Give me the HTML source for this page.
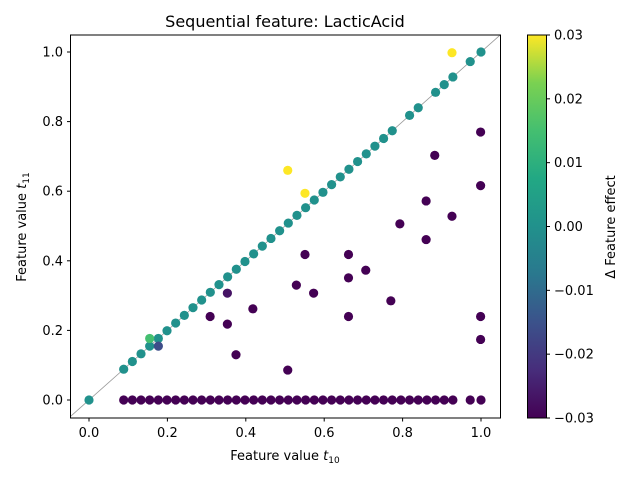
<!DOCTYPE html>
<html><head><meta charset="utf-8"><style>
body{margin:0;background:#fff}
svg{display:block;font-family:"DejaVu Sans","Liberation Sans",sans-serif}
</style></head><body>
<svg id="chart" width="640" height="480" viewBox="0 0 640 480" xmlns="http://www.w3.org/2000/svg">
<defs><linearGradient id="viridis" x1="0" y1="1" x2="0" y2="0">
<stop offset="0" stop-color="#440154"/><stop offset="0.125" stop-color="#472d7b"/><stop offset="0.25" stop-color="#3b528b"/><stop offset="0.375" stop-color="#2a788e"/><stop offset="0.5" stop-color="#21918c"/><stop offset="0.625" stop-color="#22a884"/><stop offset="0.75" stop-color="#44bf70"/><stop offset="0.875" stop-color="#7ad151"/><stop offset="1" stop-color="#fde725"/></linearGradient>
<clipPath id="plotclip"><rect x="70.5" y="35" width="430" height="383"/></clipPath></defs>
<text x="285" y="27" font-size="16" text-anchor="middle">Sequential feature: LacticAcid</text>
<g id="plot" clip-path="url(#plotclip)"></g>
<g id="axes"></g>
<rect x="70.5" y="35" width="430" height="383" fill="none" stroke="#000" stroke-width="1"/>
<text x="285" y="460" font-size="13" text-anchor="middle">Feature value <tspan font-style="italic">t</tspan><tspan font-size="9" dy="3">10</tspan></text>
<text transform="translate(26,227) rotate(-90)" font-size="13" text-anchor="middle">Feature value <tspan font-style="italic">t</tspan><tspan font-size="9" dy="3">11</tspan></text>
<rect x="527.5" y="35" width="19" height="383" fill="url(#viridis)" stroke="#000" stroke-width="1"/>
<g id="cbar"></g>
<text transform="translate(615,227) rotate(-90)" font-size="13" text-anchor="middle">Δ Feature effect</text>
</svg>
<script>
const diagX = [0.0,0.0885,0.1106,0.1327,0.1548,0.1769,0.199,0.2211,0.2432,0.2653,0.2874,0.3095,0.3316,0.3537,0.3758,0.3979,0.42,0.4421,0.4642,0.4863,0.5084,0.5305,0.5526,0.5747,0.5968,0.6189,0.641,0.6631,0.6852,0.7073,0.7294,0.7515,0.7736,0.8178,0.8399,0.8841,0.9062,0.9283,0.9725,1.0];
const bottomX = [0.0885,0.1106,0.1327,0.1548,0.1769,0.199,0.2211,0.2432,0.2653,0.2874,0.3095,0.3316,0.3537,0.3758,0.3979,0.42,0.4421,0.4642,0.4863,0.5084,0.5305,0.5526,0.5747,0.5968,0.6189,0.641,0.6631,0.6852,0.7073,0.7294,0.7515,0.7736,0.7957,0.8178,0.8399,0.862,0.8841,0.9062,0.9283,0.9725,1.0];
const otherX = [0.999,0.882,0.999,0.860,0.926,0.793,0.860,0.551,0.662,0.706,0.662,0.529,0.573,0.770,0.418,0.309,0.353,0.662,0.999,0.999,0.375,0.507,0.353,0.1548,0.1769,0.507,0.551,0.926];
const otherY = [0.770,0.703,0.616,0.572,0.528,0.506,0.461,0.418,0.418,0.373,0.351,0.330,0.307,0.285,0.262,0.240,0.218,0.240,0.240,0.174,0.130,0.086,0.307,0.1769,0.1548,0.660,0.594,0.998];
const otherEffect = [-0.03,-0.03,-0.03,-0.03,-0.03,-0.03,-0.03,-0.03,-0.03,-0.03,-0.03,-0.03,-0.03,-0.03,-0.03,-0.03,-0.03,-0.03,-0.03,-0.03,-0.03,-0.03,-0.027,0.015,-0.016,0.03,0.03,0.03];
const xTicks = [0,0.2,0.4,0.6,0.8,1.0];
const xTickLabels = ["0.0","0.2","0.4","0.6","0.8","1.0"];
const yTicks = [0,0.2,0.4,0.6,0.8,1.0];
const yTickLabels = ["0.0","0.2","0.4","0.6","0.8","1.0"];
const cTicks = [-0.03,-0.02,-0.01,0,0.01,0.02,0.03];
const cTickLabels = ["−0.03","−0.02","−0.01","0.00","0.01","0.02","0.03"];

const NS="http://www.w3.org/2000/svg";
const sx = v => 89 + v*392;
const sy = v => 400 - v*348;
const sc = v => 418 - (v+0.03)/0.06*383;
const stops=[[0,[68,1,84]],[0.125,[71,45,123]],[0.25,[59,82,139]],[0.375,[42,120,142]],[0.5,[33,145,140]],[0.625,[34,168,132]],[0.75,[68,191,112]],[0.875,[122,209,81]],[1,[253,231,37]]];
function cmap(e){let t=Math.max(0,Math.min(1,(e+0.03)/0.06));for(let i=1;i<stops.length;i++){if(t<=stops[i][0]){const a=stops[i-1],b=stops[i];const f=(t-a[0])/(b[0]-a[0]);const c=a[1].map((v,k)=>Math.round(v+(b[1][k]-v)*f));return `rgb(${c.join(',')})`;}}return 'rgb(253,231,37)';}
function mk(tag,attrs,parent){const el=document.createElementNS(NS,tag);for(const k in attrs)el.setAttribute(k,attrs[k]);parent.appendChild(el);return el;}
const plot=document.getElementById('plot'), axes=document.getElementById('axes'), cbar=document.getElementById('cbar');
const diag=mk('line',{x1:sx(-0.05),y1:sy(-0.05),x2:sx(1.05),y2:sy(1.05),stroke:'#999',"stroke-width":0.8},plot);


bottomX.forEach(x=>{const c=mk('circle',{cx:sx(x),cy:sy(0),r:4.6,fill:cmap(-0.03)},plot);

});
diagX.forEach(x=>{const c=mk('circle',{cx:sx(x),cy:sy(x),r:4.6,fill:cmap(0)},plot);

});
otherX.forEach((x,i)=>{const c=mk('circle',{cx:sx(x),cy:sy(otherY[i]),r:4.6,fill:cmap(otherEffect[i])},plot);

});
xTicks.forEach((v,i)=>{const l=mk('line',{x1:sx(v),y1:418,x2:sx(v),y2:421.5,stroke:'#000'},axes);


const t=mk('text',{x:sx(v),y:437,"font-size":13,"text-anchor":"middle"},axes);t.textContent=xTickLabels[i];

});
yTicks.forEach((v,i)=>{const l=mk('line',{x1:67,y1:sy(v),x2:70.5,y2:sy(v),stroke:'#000'},axes);


const t=mk('text',{x:63,y:sy(v)+4.5,"font-size":13,"text-anchor":"end"},axes);t.textContent=yTickLabels[i];

});
cTicks.forEach((v,i)=>{const l=mk('line',{x1:546.5,y1:sc(v),x2:550,y2:sc(v),stroke:'#000'},cbar);


const t=mk('text',{x:554,y:sc(v)+4.5,"font-size":13},cbar);t.textContent=cTickLabels[i];

});
</script>
</body></html>
